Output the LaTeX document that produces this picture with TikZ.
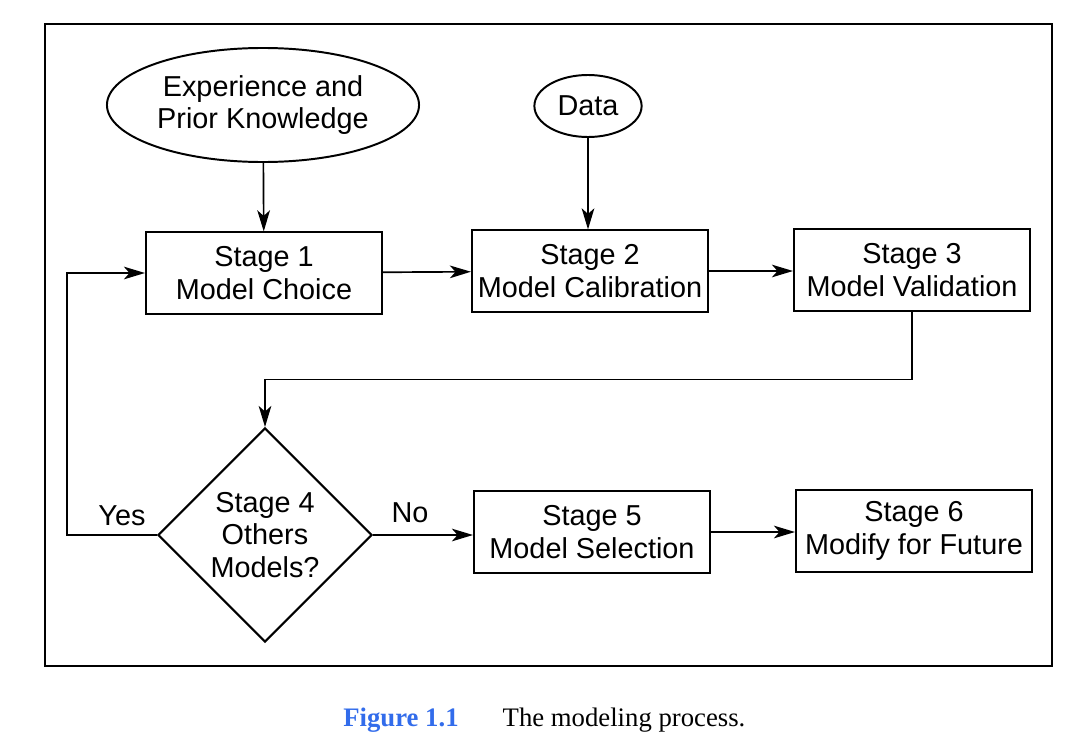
\documentclass[tikz,border=0pt]{standalone}
\usepackage{fontspec}
\setmainfont{Liberation Sans}
\newfontfamily\capfont{Liberation Serif}
\usetikzlibrary{shapes.geometric,arrows.meta}
\definecolor{figblue}{RGB}{50,108,235}
\begin{document}
\begin{tikzpicture}[x=0.025cm,y=-0.025cm,
  every node/.style={font=\fontsize{20.5}{23}\selectfont, align=center},
  stagebox/.style={draw, line width=1.4pt, inner sep=0pt, minimum width=5.9cm, minimum height=2.03cm},
  source/.style={draw, ellipse, line width=1.4pt, inner sep=0pt},
  arr/.style={-{Stealth[length=15pt,width=9pt,inset=4pt]}, line width=1.2pt}]
\useasboundingbox (0,0) rectangle (1085,743);
\draw[line width=1.5pt] (45,24) rectangle (1052,666);
\node[source, minimum width=7.8cm, minimum height=2.85cm] (exp) at (263,105) {Experience and\\ Prior Knowledge};
\node[source, minimum width=2.68cm, minimum height=1.55cm] (data) at (588,106) {Data};
\node[stagebox] (s1) at (264,273) {Stage 1\\ Model Choice};
\node[stagebox] (s2) at (590,271) {Stage 2\\ Model Calibration};
\node[stagebox] (s3) at (912,270) {Stage 3\\ Model Validation};
\node[draw, diamond, line width=1.4pt, inner sep=0pt, aspect=1, minimum width=5.35cm, minimum height=5.35cm] (s4) at (265,535) {Stage 4\\ Others\\ Models?};
\node[stagebox] (s5) at (592,532) {Stage 5\\ Model Selection};
\node[stagebox] (s6) at (914,531) {Stage 6\\ Modify for Future};
\node (yeslbl) at (122,516) {Yes};
\node (nolbl) at (410,513) {No};
\draw[arr] (exp) -- (s1);
\draw[arr] (data) -- (s2.north -| data);
\draw[arr] (s1) -- (s2);
\draw[arr] (s2.east) -- (s3.west |- s2.east);
\draw[arr] (s3.south) -- ++(0,68) -| (s4.north);
\draw[arr] (s4.west) -- ++(-90,0) |- (s1.west);
\draw[arr] (s4.east) -- (s5.west |- s4.east);
\draw[arr] (s5.east) -- (s6.west |- s5.east);
\node[font=\capfont\bfseries\fontsize{19}{22}\selectfont, text=figblue] (fig) at (401,720) {Figure 1.1};
\node[font=\capfont\fontsize{19}{22}\selectfont] (captxt) at (624,720) {The modeling process.};
\end{tikzpicture}
\end{document}
